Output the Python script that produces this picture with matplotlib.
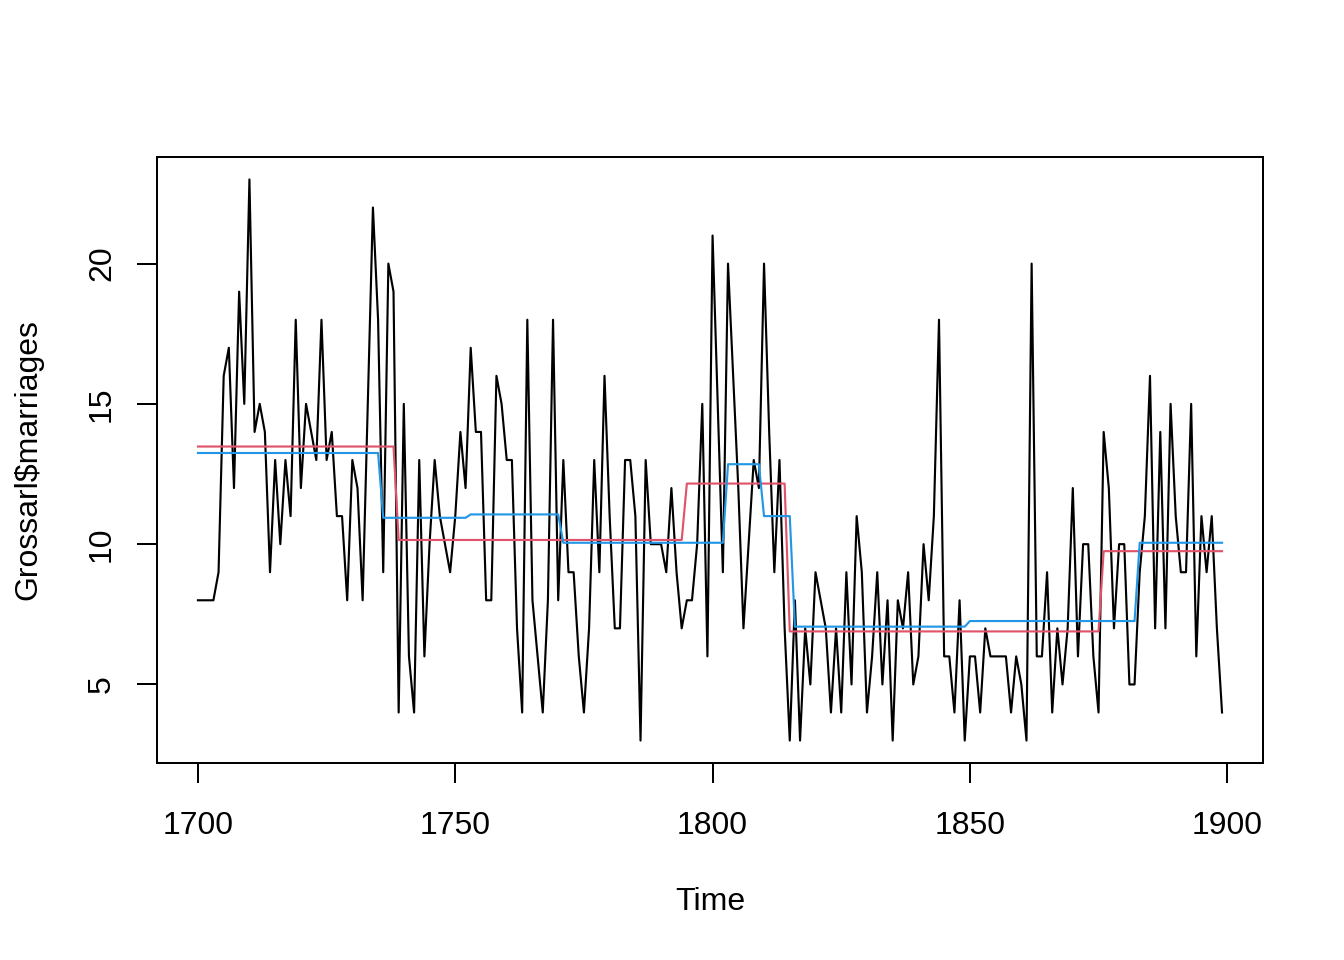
import numpy as np
import matplotlib
matplotlib.use("Agg")
import matplotlib.pyplot as plt

plt.rcParams['font.family'] = ['Liberation Sans', 'DejaVu Sans']

# Observed series: Grossarl marriages, 1700-1899
years = np.arange(1700, 1900)
marriages = [
    8, 8, 8, 8, 9, 16, 17, 12, 19, 15,        # 1700s
    23, 14, 15, 14, 9, 13, 10, 13, 11, 18,    # 1710s
    12, 15, 14, 13, 18, 13, 14, 11, 11, 8,    # 1720s
    13, 12, 8, 15, 22, 18, 9, 20, 19, 4,      # 1730s
    15, 6, 4, 13, 6, 10, 13, 11, 10, 9,       # 1740s
    11, 14, 12, 17, 14, 14, 8, 8, 16, 15,     # 1750s
    13, 13, 7, 4, 18, 8, 6, 4, 8, 18,         # 1760s
    8, 13, 9, 9, 6, 4, 7, 13, 9, 16,          # 1770s
    11, 7, 7, 13, 13, 11, 3, 13, 10, 10,      # 1780s
    10, 9, 12, 9, 7, 8, 8, 10, 15, 6,         # 1790s
    21, 15, 9, 20, 16, 12, 7, 10, 13, 12,     # 1800s
    20, 14, 9, 13, 7, 3, 8, 3, 7, 5,          # 1810s
    9, 8, 7, 4, 7, 4, 9, 5, 11, 9,            # 1820s
    4, 6, 9, 5, 8, 3, 8, 7, 9, 5,             # 1830s
    6, 10, 8, 11, 18, 6, 6, 4, 8, 3,          # 1840s
    6, 6, 4, 7, 6, 6, 6, 6, 4, 6,             # 1850s
    5, 3, 20, 6, 6, 9, 4, 7, 5, 7,            # 1860s
    12, 6, 10, 10, 6, 4, 14, 12, 7, 10,       # 1870s
    10, 5, 5, 9, 11, 16, 7, 14, 7, 15,        # 1880s
    11, 9, 9, 15, 6, 11, 9, 11, 7, 4,         # 1890s
]

# Fitted segment levels (red: 4 breaks, blue: 8 breaks)
red_starts = [1700, 1739, 1795, 1815, 1876]
red_levels = [13.48, 10.15, 12.16, 6.89, 9.75]
blue_starts = [1700, 1736, 1753, 1771, 1803, 1810, 1816, 1850, 1883]
blue_levels = [13.25, 10.94, 11.06, 10.05, 12.85, 11.0, 7.06, 7.26, 10.05]

x_ticks = [1700, 1750, 1800, 1850, 1900]
y_ticks = [5, 10, 15, 20]


def step_series(starts, levels, yrs):
    idx = np.searchsorted(starts, yrs, side='right') - 1
    return np.asarray(levels)[idx]


red_fit = step_series(red_starts, red_levels, years)
blue_fit = step_series(blue_starts, blue_levels, years)

fig = plt.figure(figsize=(7, 5), dpi=192)
ax = fig.add_axes([157 / 1344, 1 - 763 / 960, (1263 - 157) / 1344, (763 - 157) / 960])

ax.plot(years, marriages, color='black', lw=0.8)
ax.plot(years, red_fit, color='#DF536B', lw=0.8)
ax.plot(years, blue_fit, color='#2297E6', lw=0.8)

rng = years[-1] - years[0]
ax.set_xlim(years[0] - 0.04 * rng, years[-1] + 0.04 * rng)
ymin, ymax = min(marriages), max(marriages)
ax.set_ylim(ymin - 0.04 * (ymax - ymin), ymax + 0.04 * (ymax - ymin))

ax.set_xticks(x_ticks)
ax.set_xticklabels([str(t) for t in x_ticks])
ax.set_yticks(y_ticks)
ax.set_yticklabels([str(t) for t in y_ticks], rotation=90, va='center')

ax.tick_params(axis='both', length=7.5, width=0.75, labelsize=12, color='black')
ax.tick_params(axis='x', pad=10.5)
ax.tick_params(axis='y', pad=7.5)
for s in ax.spines.values():
    s.set_linewidth(0.75)

ax.set_xlabel('Time', fontsize=12)
ax.xaxis.set_label_coords(0.5, (763 - 910) / 606)
ax.xaxis.label.set_va('baseline')
ax.set_ylabel('Grossarl$marriages', fontsize=12)
ax.yaxis.set_label_coords((36 - 157) / 1106, 0.5)
ax.yaxis.label.set_va('baseline')

fig.savefig('out.png', dpi=192, facecolor='white')
